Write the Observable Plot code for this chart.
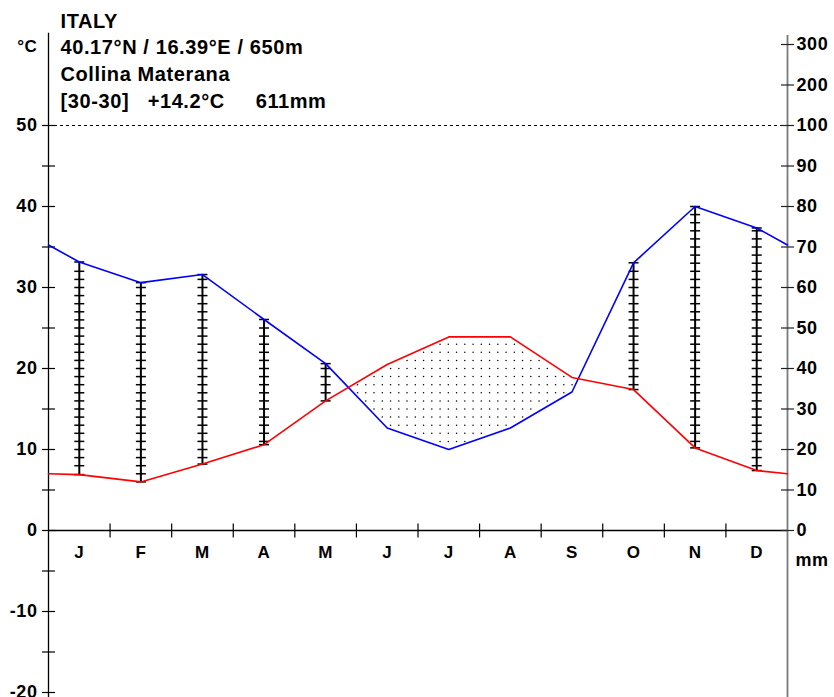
<!DOCTYPE html>
<html>
<head>
<meta charset="utf-8">
<script src="https://cdn.jsdelivr.net/npm/d3@7"></script>
<script src="https://cdn.jsdelivr.net/npm/@observablehq/plot@0.6"></script>
<style>
  html, body { margin: 0; padding: 0; background: #fff; }
  svg text { white-space: pre; }
</style>
</head>
<body>
<div id="chart"></div>
<script>
// ---- data ----
const months = ["J","F","M","A","M","J","J","A","S","O","N","D"];
const temp   = [6.9, 6.0, 8.2, 10.6, 16.0, 20.5, 23.9, 23.9, 18.9, 17.4, 10.2, 7.4]; // °C
const precip = [66.3, 61.2, 63.2, 52.1, 41.2, 25.3, 20.0, 25.3, 34.2, 66.1, 80.0, 74.7]; // mm
const tempEdge = 7.0;     // value drawn at the diagram edges
const precipEdge = 70.5;  // value drawn at the diagram edges
const tempTicks = [-20, -10, 0, 10, 20, 30, 40, 50];
const tempMinorTicks = [-15, -5, 5, 15, 25, 35, 45];
const precipTicks = [0, 10, 20, 30, 40, 50, 60, 70, 80, 90, 100, 200, 300];
const headerLines = ["ITALY", "40.17°N / 16.39°E / 650m", "Collina Materana", "[30-30]   +14.2°C     611mm"];

// ---- helpers ----
// mm -> temperature-axis units (20 mm = 10 °C up to 100 mm, then compressed 1:10)
const pmap = mm => mm <= 100 ? mm / 2 : 50 + (mm - 100) / 20;
const rows = [
  {x: 0, t: tempEdge, p: precipEdge},
  ...months.map((m, i) => ({x: i + 0.5, t: temp[i], p: precip[i]})),
  {x: 12, t: tempEdge, p: precipEdge}
];
const humid = rows.filter(d => d.x > 0 && d.x < 12 && pmap(d.p) > d.t);
const hatchTicks = [];
for (const d of humid) {
  const lo = d.t, hi = pmap(d.p);
  hatchTicks.push({x: d.x, y: lo}, {x: d.x, y: hi});
  for (let k = Math.ceil(lo + 0.3); k <= hi - 0.3; k++) hatchTicks.push({x: d.x, y: k});
}
// stipple texture for the arid region (between the curves where precipitation < temperature)
const along = (x, key) => {
  for (let i = 0; i < rows.length - 1; i++) {
    const a = rows[i], b = rows[i + 1];
    if (x >= a.x && x <= b.x) {
      const f = (x - a.x) / (b.x - a.x);
      return key(a) + f * (key(b) - key(a));
    }
  }
  return NaN;
};
const stipple = [];
for (let gx = 0.06; gx < 12; gx += 0.134) {
  const tt = along(gx, d => d.t), pp = along(gx, d => pmap(d.p));
  for (let gy = -20; gy <= 50; gy += 1) {
    if (gy > pp + 0.3 && gy < tt - 0.3) stipple.push({x: gx, y: gy});
  }
}
const hSym = hw => ({draw(c) { c.moveTo(-hw, 0); c.lineTo(hw, 0); }});
const vSym = hh => ({draw(c) { c.moveTo(0, -hh); c.lineTo(0, hh); }});
const boundaries = d3.range(1, 12);
const FONT = "Liberation Sans, Arial, Helvetica, sans-serif";
const yBottom = -20.7, yTopLeft = 61.4, yTopRight = 61.1;

const plot = Plot.plot({
  width: 834,
  height: 697,
  marginLeft: 0, marginRight: 0, marginTop: 0, marginBottom: 0,
  x: {domain: [0, 12], range: [48, 787], axis: null},
  y: {domain: [-20, 50], range: [692, 125], axis: null},
  style: {fontFamily: FONT, fontWeight: "bold", color: "black", background: "white"},
  marks: [
    // arid stipple
    Plot.dot(stipple, {x: "x", y: "y", r: 0.75, fill: "black", stroke: "none"}),
    // humid hatching
    Plot.ruleX(humid, {x: "x", y1: "t", y2: d => pmap(d.p), stroke: "black", strokeWidth: 2}),
    Plot.dot(hatchTicks, {x: "x", y: "y", symbol: hSym(5), stroke: "black", fill: "none", strokeWidth: 1.5}),
    // 50°C / 100 mm dashed line
    Plot.ruleY([50], {x1: 0, x2: 12, stroke: "black", strokeWidth: 1, strokeDasharray: "3,3"}),
    // x axis
    Plot.ruleY([0], {x1: 0, x2: 12, stroke: "black", strokeWidth: 1.3}),
    Plot.dot(boundaries, {x: d => d, y: () => 0, symbol: vSym(7), stroke: "black", fill: "none", strokeWidth: 1.2}),
    Plot.text(months, {x: (d, i) => i + 0.5, y: () => 0, text: d => d, dy: 22, fontSize: 17, textAnchor: "middle", lineAnchor: "middle"}),
    // left temperature axis
    Plot.ruleX([0], {y1: yBottom, y2: yTopLeft, stroke: "black", strokeWidth: 1.3}),
    Plot.dot(tempTicks.concat(tempMinorTicks), {x: () => 0, y: d => d, symbol: hSym(6.5), stroke: "black", fill: "none", strokeWidth: 1.2}),
    Plot.text(tempTicks, {x: () => 0, y: d => d, text: d => String(d), dx: -11, fontSize: 18, textAnchor: "end", lineAnchor: "middle"}),
    // right precipitation axis
    Plot.ruleX([12], {y1: yBottom, y2: yTopRight, stroke: "#7a7a7a", strokeWidth: 1.8}),
    Plot.dot(precipTicks, {x: () => 12, y: d => pmap(d), symbol: hSym(6.5), stroke: "#222", fill: "none", strokeWidth: 1.2}),
    Plot.text(precipTicks, {x: () => 12, y: d => pmap(d), text: d => String(d), dx: 9, fontSize: 18, textAnchor: "start", lineAnchor: "middle"}),
    Plot.text(["mm"], {x: () => 12, y: () => 0, text: d => d, dx: 8, dy: 30, fontSize: 18, textAnchor: "start", lineAnchor: "middle"}),
    Plot.text(["°C"], {x: () => 0, y: () => yTopLeft, text: d => d, dx: -11, dy: 13, fontSize: 17, textAnchor: "end", lineAnchor: "middle"}),
    // curves
    Plot.line(rows, {x: "x", y: d => pmap(d.p), stroke: "#0000ff", strokeWidth: 1.6}),
    Plot.line(rows, {x: "x", y: "t", stroke: "#ff0000", strokeWidth: 1.6}),
    // header
    Plot.text([headerLines.join("\n")], {frameAnchor: "top-left", text: d => d, dx: 60, dy: 8, fontSize: 20, textAnchor: "start", lineAnchor: "top", lineHeight: 1.34, ariaLabel: "header"})
  ]
});

const svg = plot.tagName.toLowerCase() === "svg" ? plot : plot.querySelector("svg");
svg.querySelectorAll("text").forEach(t => t.setAttribute("letter-spacing", "0.6"));
svg.querySelectorAll('g[aria-label="header"] text').forEach(t => t.setAttribute("letter-spacing", "0.8"));
document.getElementById("chart").appendChild(plot);
</script>
</body>
</html>
